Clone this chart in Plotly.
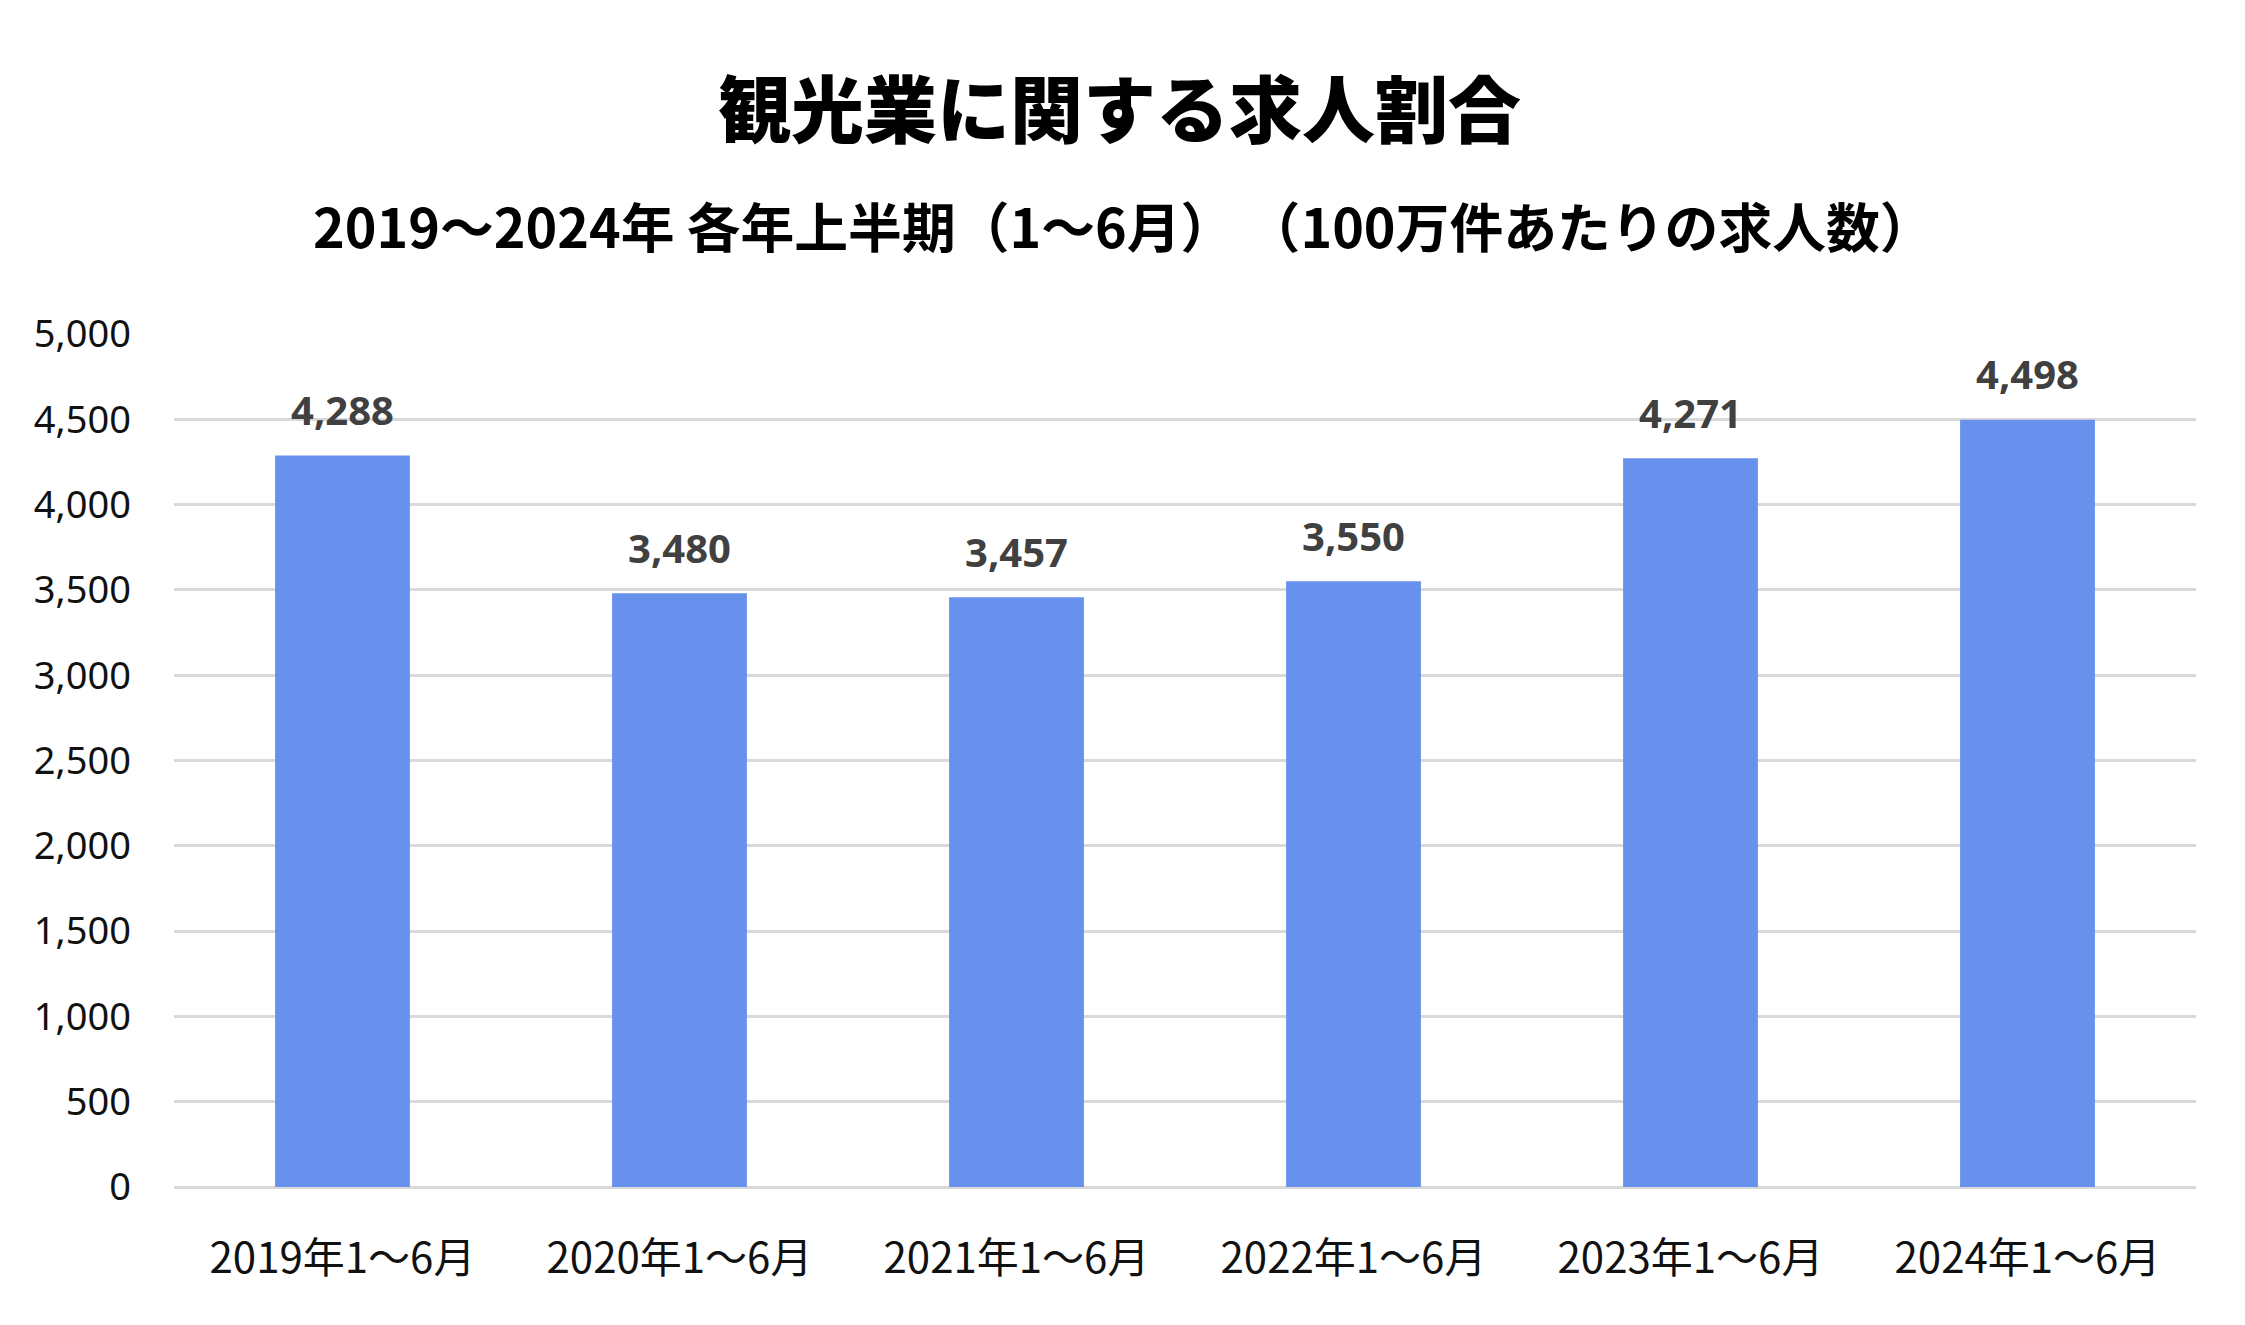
import plotly.graph_objects as go

categories = ["2019年1～6月", "2020年1～6月", "2021年1～6月", "2022年1～6月", "2023年1～6月", "2024年1～6月"]
values = [4288, 3480, 3457, 3550, 4271, 4498]
y_ticks = [0, 500, 1000, 1500, 2000, 2500, 3000, 3500, 4000, 4500, 5000]

title_main = "観光業に関する求人割合"
title_sub = "2019～2024年 各年上半期（1～6月） （100万件あたりの求人数）"

W, H = 2245, 1325
L, R, T, B = 174, 49, 334, 138
plot_w = W - L - R
plot_h = H - T - B


def xp(px):
    return (px - L) / plot_w


def yp(px):
    return (H - B - px) / plot_h


fig = go.Figure()
fig.add_trace(go.Bar(
    x=categories, y=values,
    marker=dict(color="#6891ED", line=dict(width=0)),
    width=0.40,
    hoverinfo="x+y",
))

for c, v in zip(categories, values):
    fig.add_annotation(
        x=c, y=v, text=f"{v:,}", showarrow=False,
        yanchor="middle", yshift=46,
        font=dict(family="Noto Sans", size=40, color="#404040", weight="bold"),
    )

fig.add_annotation(
    x=xp(1119), xref="paper", y=yp(105), yref="paper", text=title_main,
    showarrow=False, yanchor="middle", xanchor="center",
    font=dict(family="Noto Sans CJK JP", size=73, color="#000000", weight=900),
)
fig.add_annotation(
    x=xp(1123), xref="paper", y=yp(225), yref="paper", text=f"<b>{title_sub}</b>",
    showarrow=False, yanchor="middle", xanchor="center",
    font=dict(family="Noto Sans CJK JP", size=53.8, color="#000000"),
)

fig.update_layout(
    width=W, height=H,
    margin=dict(l=L, r=R, t=T, b=B),
    paper_bgcolor="white", plot_bgcolor="white",
    showlegend=False,
)

fig.update_xaxes(
    type="category", showgrid=False, showline=False, zeroline=False,
    ticks="", ticklabelstandoff=43,
    tickfont=dict(family="Noto Sans CJK JP", size=42, color="#111111"),
)
fig.update_yaxes(
    range=[0, 5000], tickvals=y_ticks, ticktext=[f"{v:,}" for v in y_ticks],
    showgrid=True, gridcolor="#D9D9D9", gridwidth=3,
    zeroline=True, zerolinecolor="#D9D9D9", zerolinewidth=3,
    showline=False, ticks="", ticklabelstandoff=42,
    tickfont=dict(family="Noto Sans", size=38, color="#111111"),
)

fig.write_html("out.html", config={"displayModeBar": False},
               post_script="document.body.style.margin='0';")
